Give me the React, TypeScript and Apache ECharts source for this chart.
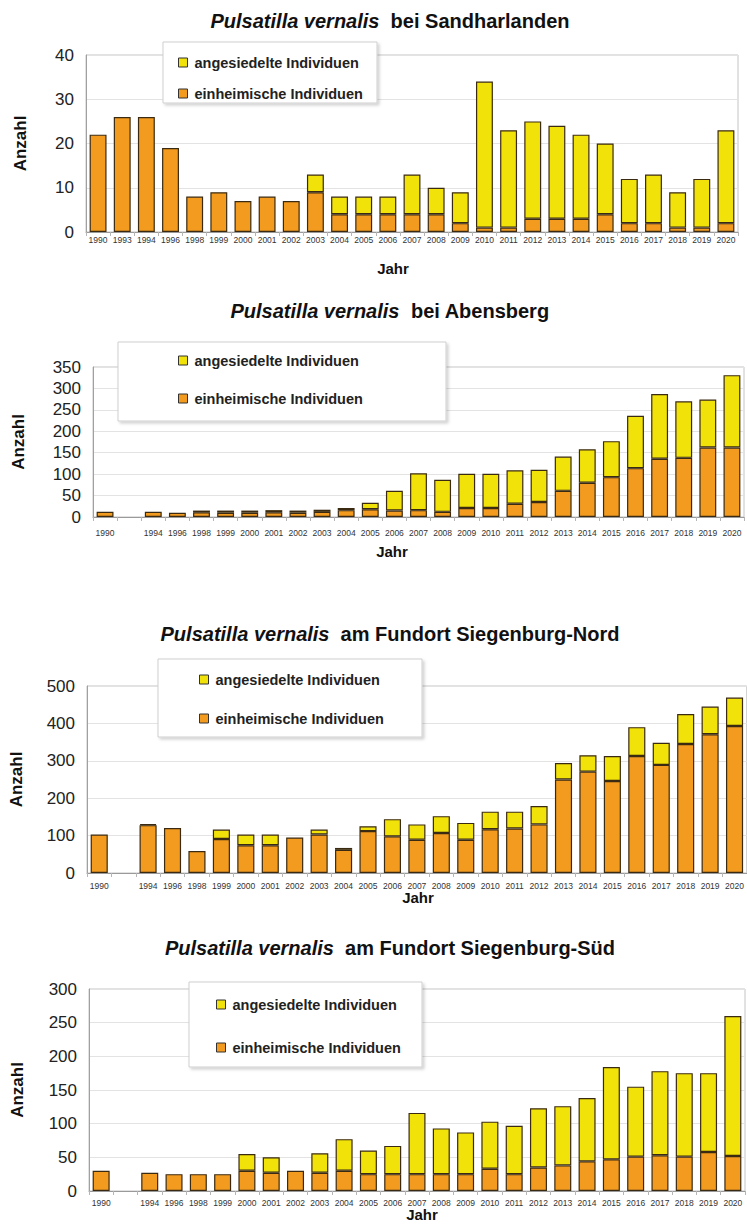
import React, { useEffect, useRef } from "react";
import * as echarts from "echarts";

// ---------- DATA ----------
const yearsSand = [
  "1990", "1993", "1994", "1996", "1998", "1999", "2000", "2001", "2002", "2003",
  "2004", "2005", "2006", "2007", "2008", "2009", "2010", "2011", "2012", "2013",
  "2014", "2015", "2016", "2017", "2018", "2019", "2020",
];
const yearsGap = [
  "1990", "", "1994", "1996", "1998", "1999", "2000", "2001", "2002", "2003",
  "2004", "2005", "2006", "2007", "2008", "2009", "2010", "2011", "2012", "2013",
  "2014", "2015", "2016", "2017", "2018", "2019", "2020",
];

const sandEinh = [22, 26, 26, 19, 8, 9, 7, 8, 7, 9, 4, 4, 4, 4, 4, 2, 1, 1, 3, 3, 3, 4, 2, 2, 1, 1, 2];
const sandAng = [0, 0, 0, 0, 0, 0, 0, 0, 0, 4, 4, 4, 4, 9, 6, 7, 33, 22, 22, 21, 19, 16, 10, 11, 8, 11, 21];

const abenEinh = [12, null, 12, 10, 11, 10, 10, 11, 10, 12, 16, 18, 15, 16, 12, 21, 21, 31, 35, 61, 80, 93, 114, 136, 138, 162, 162];
const abenAng = [0, null, 0, 0, 4, 5, 5, 5, 5, 5, 5, 15, 46, 86, 75, 80, 80, 78, 75, 80, 78, 84, 122, 151, 132, 112, 169];

const nordEinh = [103, null, 128, 120, 59, 91, 74, 74, 95, 103, 62, 112, 98, 89, 107, 89, 117, 119, 130, 250, 271, 246, 313, 289, 345, 371, 393];
const nordAng = [0, null, 3, 0, 0, 25, 29, 29, 0, 13, 5, 13, 46, 41, 45, 45, 47, 45, 49, 44, 44, 67, 77, 59, 80, 74, 76];

const suedEinh = [30, null, 27, 25, 25, 25, 30, 27, 30, 27, 30, 25, 25, 25, 25, 25, 33, 25, 35, 38, 44, 47, 51, 53, 51, 58, 52];
const suedAng = [0, null, 0, 0, 0, 0, 25, 23, 0, 29, 47, 35, 42, 91, 68, 62, 70, 72, 88, 88, 94, 137, 104, 125, 124, 117, 208];

const titlePlaces = ["bei Sandharlanden", "bei Abensberg", "am Fundort Siegenburg-Nord", "am Fundort Siegenburg-Süd"];
const yMax = [40, 350, 500, 300];
const yInterval = [10, 50, 100, 50];

const nameAng = "angesiedelte Individuen";
const nameEinh = "einheimische Individuen";

// ---------- LAYOUT ----------
const FONT = "'Liberation Sans', Arial, Helvetica, sans-serif";
const ORANGE = "#F39B1F";
const YELLOW = "#F1E20A";
const BORDER = "#3b2a12";

const panels = [
  { grid: { left: 86, top: 55, width: 652, height: 177 }, titleY: 21, anzX: 20, jahrX: 393, jahrY: 268, labelMargin: 3,
    box: { x: 163, y: 42, w: 214, h: 61 }, legend: { left: 178, top: 55, gap: 16 } },
  { grid: { left: 93, top: 367, width: 651, height: 150 }, titleY: 311, anzX: 18, jahrX: 392, jahrY: 551, labelMargin: 11,
    box: { x: 118, y: 342, w: 328, h: 79 }, legend: { left: 178, top: 353, gap: 23 } },
  { grid: { left: 87, top: 686, width: 660, height: 187 }, titleY: 634, anzX: 16, jahrX: 418, jahrY: 897, labelMargin: 8,
    box: { x: 158, y: 659, w: 264, h: 78 }, legend: { left: 199, top: 672, gap: 24 } },
  { grid: { left: 89, top: 989, width: 656, height: 202 }, titleY: 948, anzX: 17, jahrX: 422, jahrY: 1214, labelMargin: 7,
    box: { x: 189, y: 982, w: 233, h: 85 }, legend: { left: 216, top: 997, gap: 28 } },
];

const datasets = [
  { cats: yearsSand, einh: sandEinh, ang: sandAng },
  { cats: yearsGap, einh: abenEinh, ang: abenAng },
  { cats: yearsGap, einh: nordEinh, ang: nordAng },
  { cats: yearsGap, einh: suedEinh, ang: suedAng },
];

function buildOption() {
  const grid: any[] = [];
  const xAxis: any[] = [];
  const yAxis: any[] = [];
  const series: any[] = [];
  const legend: any[] = [];
  const graphic: any[] = [];

  panels.forEach((p, i) => {
    const d = datasets[i];
    grid.push({
      ...p.grid,
      show: true,
      borderColor: "#c4c4c4",
      borderWidth: 1,
      backgroundColor: "transparent",
    });
    xAxis.push({
      type: "category",
      gridIndex: i,
      data: d.cats,
      axisLine: { lineStyle: { color: "#9a9a9a", width: 1 } },
      axisTick: { show: true, length: 4, lineStyle: { color: "#b5b5b5" } },
      axisLabel: { interval: 0, fontSize: 8.5, color: "#333", fontFamily: FONT, margin: p.labelMargin },
    });
    yAxis.push({
      type: "value",
      gridIndex: i,
      min: 0,
      max: yMax[i],
      interval: yInterval[i],
      axisLine: { show: true, lineStyle: { color: "#a0a0a0" } },
      axisTick: { show: false },
      splitLine: { lineStyle: { color: "#e3e3e3" } },
      axisLabel: { fontSize: 17, color: "#222", fontFamily: FONT, margin: 12 },
    });
    series.push({
      name: nameEinh,
      type: "bar",
      stack: "s" + i,
      xAxisIndex: i,
      yAxisIndex: i,
      barWidth: "70%",
      data: d.einh.map((v) => (v === 0 ? null : v)),
      itemStyle: { color: ORANGE, borderColor: BORDER, borderWidth: 1.2 },
    });
    series.push({
      name: nameAng,
      type: "bar",
      stack: "s" + i,
      xAxisIndex: i,
      yAxisIndex: i,
      barWidth: "70%",
      data: d.ang.map((v) => (v === 0 ? null : v)),
      itemStyle: { color: YELLOW, borderColor: BORDER, borderWidth: 1.2 },
    });
    legend.push({
      orient: "vertical",
      left: p.legend.left,
      top: p.legend.top,
      padding: 0,
      itemGap: p.legend.gap,
      itemWidth: 9,
      itemHeight: 9,
      icon: "rect",
      selectedMode: false,
      data: [nameAng, nameEinh],
      textStyle: { fontSize: 14.5, lineHeight: 14, fontWeight: "bold", color: "#222", fontFamily: FONT, padding: [0, 0, 0, 2] },
      itemStyle: { borderColor: "#333", borderWidth: 1 },
      z: 10,
    });
    graphic.push({
      type: "rect",
      z: 5,
      shape: { x: p.box.x, y: p.box.y, width: p.box.w, height: p.box.h },
      style: {
        fill: "#fff",
        stroke: "#cfcfcf",
        lineWidth: 1,
        shadowBlur: 3,
        shadowOffsetX: 2,
        shadowOffsetY: 2,
        shadowColor: "rgba(0,0,0,0.18)",
      },
    });
    graphic.push({
      type: "text",
      z: 5,
      x: 390,
      y: p.titleY,
      style: {
        text: "{i|Pulsatilla vernalis}{n|  " + titlePlaces[i] + "}",
        align: "center",
        verticalAlign: "middle",
        rich: {
          i: { fontSize: 20, fontWeight: "bold", fontStyle: "italic", fontFamily: FONT, fill: "#111" },
          n: { fontSize: 20, fontWeight: "bold", fontFamily: FONT, fill: "#111" },
        },
      },
    });
    graphic.push({
      type: "text",
      z: 5,
      x: p.anzX,
      y: p.grid.top + p.grid.height / 2,
      rotation: Math.PI / 2,
      style: {
        text: "Anzahl",
        align: "center",
        verticalAlign: "middle",
        fontSize: 17,
        fontWeight: "bold",
        fontFamily: FONT,
        fill: "#111",
      },
    });
    graphic.push({
      type: "text",
      z: 5,
      x: p.jahrX,
      y: p.jahrY,
      style: {
        text: "Jahr",
        align: "center",
        verticalAlign: "middle",
        fontSize: 15,
        fontWeight: "bold",
        fontFamily: FONT,
        fill: "#111",
      },
    });
  });

  return {
    animation: false,
    backgroundColor: "#fff",
    textStyle: { fontFamily: FONT },
    grid,
    xAxis,
    yAxis,
    series,
    legend,
    graphic,
  };
}

export default function App() {
  const ref = useRef<HTMLDivElement>(null);
  useEffect(() => {
    if (!ref.current) return;
    const chart = echarts.init(ref.current, null, { renderer: "svg" });
    chart.setOption(buildOption() as any);
    return () => chart.dispose();
  }, []);
  return (
    <div
      ref={ref}
      style={{ position: "absolute", left: 0, top: 0, width: 747, height: 1225, background: "#fff" }}
    />
  );
}
